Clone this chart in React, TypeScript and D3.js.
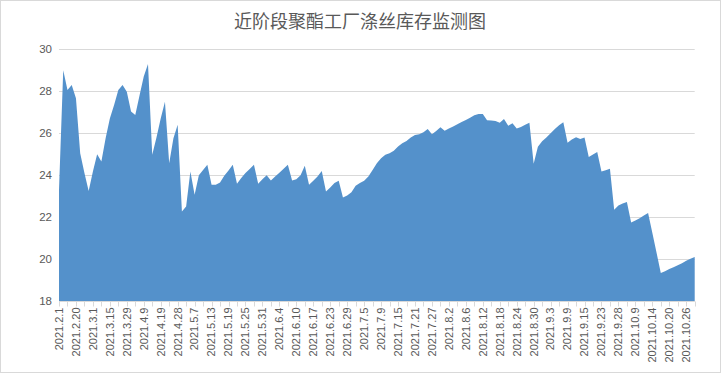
import React, { useEffect, useRef } from 'react';
import * as d3 from 'd3';

// inventory days, one value per observation (label shown every 4th point)
const inventory: number[] = [
  23.3, 29.0, 28.06, 28.3, 27.67, 25.05, 24.1, 23.25, 24.17, 25.0,
  24.65, 25.76, 26.7, 27.35, 28.06, 28.3, 27.98, 27.03, 26.87, 27.8,
  28.7, 29.3, 24.97, 25.8, 26.7, 27.5, 24.57, 25.76, 26.4, 22.27,
  22.5, 24.17, 23.07, 24.0, 24.25, 24.5, 23.54, 23.54, 23.65, 23.97,
  24.22, 24.49, 23.59, 23.86, 24.1, 24.29, 24.49, 23.59, 23.81, 24.0,
  23.74, 23.93, 24.12, 24.31, 24.49, 23.74, 23.81, 24.0, 24.45, 23.54,
  23.73, 23.93, 24.2, 23.22, 23.41, 23.62, 23.73, 22.93, 23.03, 23.19,
  23.5, 23.62, 23.73, 23.93, 24.25, 24.57, 24.81, 24.97, 25.05, 25.16,
  25.36, 25.52, 25.63, 25.79, 25.92, 25.95, 26.05, 26.2, 25.95, 26.1,
  26.28, 26.12, 26.22, 26.32, 26.43, 26.53, 26.63, 26.74, 26.86, 26.92,
  26.92, 26.62, 26.6, 26.58, 26.5, 26.68, 26.35, 26.48, 26.22, 26.3,
  26.4, 26.5, 24.54, 25.35, 25.62, 25.8, 26.0, 26.2, 26.38, 26.52,
  25.55, 25.7, 25.81, 25.72, 25.8, 24.86, 24.98, 25.1, 24.17, 24.23,
  24.3, 22.35, 22.55, 22.65, 22.72, 21.74, 21.84, 21.95, 22.08, 22.2,
  21.25, 20.3, 19.33, 19.42, 19.53, 19.61, 19.71, 19.8, 19.92, 20.01,
  20.1,
];

const dateLabels: string[] = [
  '2021.2.1', '2021.2.20', '2021.3.1', '2021.3.15', '2021.3.29', '2021.4.9',
  '2021.4.19', '2021.4.28', '2021.5.7', '2021.5.13', '2021.5.19', '2021.5.25',
  '2021.5.31', '2021.6.4', '2021.6.10', '2021.6.17', '2021.6.23', '2021.6.29',
  '2021.7.5', '2021.7.9', '2021.7.15', '2021.7.21', '2021.7.27', '2021.8.2',
  '2021.8.6', '2021.8.12', '2021.8.18', '2021.8.24', '2021.8.30', '2021.9.3',
  '2021.9.9', '2021.9.15', '2021.9.23', '2021.9.28', '2021.10.9', '2021.10.14',
  '2021.10.20', '2021.10.26',
];

const yTicks: number[] = [18, 20, 22, 24, 26, 28, 30];
const labelEvery = 4;
const tickEvery = 2;
const title = '近阶段聚酯工厂涤丝库存监测图';

const App = () => {
  const svgRef = useRef<SVGSVGElement | null>(null);
  const width = 721;
  const height = 373;

  useEffect(() => {
    const svg = d3.select(svgRef.current);
    svg.selectAll('*').remove();

    const margin = { top: 49.3, right: 26.3, bottom: 72, left: 59 };
    const gridColor = '#d9d9d9';
    const textColor = '#595959';

    // chart border
    svg.append('rect')
      .attr('x', 0.5).attr('y', 0.5)
      .attr('width', width - 1).attr('height', height - 1)
      .attr('fill', '#fff')
      .attr('stroke', gridColor);

    const x = d3.scaleLinear()
      .domain([0, inventory.length - 1])
      .range([margin.left, width - margin.right]);

    const y = d3.scaleLinear()
      .domain([18, 30])
      .range([height - margin.bottom, margin.top]);

    // gridlines + y labels
    yTicks.forEach(t => {
      svg.append('line')
        .attr('x1', x(0)).attr('x2', x(inventory.length - 1))
        .attr('y1', Math.round(y(t)) + 0.5).attr('y2', Math.round(y(t)) + 0.5)
        .attr('stroke', gridColor)
        .attr('stroke-width', 1);
      svg.append('text')
        .attr('x', 52)
        .attr('y', y(t))
        .attr('dy', '0.35em')
        .attr('text-anchor', 'end')
        .attr('fill', textColor)
        .style('font-family', '"Liberation Sans", Arial, sans-serif')
        .style('font-size', '11.5px')
        .text(t);
    });

    // area
    const area = d3.area<number>()
      .x((_, i) => x(i))
      .y0(y(18))
      .y1(d => y(d))
      .curve(d3.curveLinear);

    svg.append('path')
      .datum(inventory)
      .attr('fill', '#5491cb')
      .attr('d', area);

    // x axis line + ticks
    const axisY = Math.round(y(18)) + 0.5;
    svg.append('line')
      .attr('x1', x(0)).attr('x2', x(inventory.length - 1))
      .attr('y1', axisY).attr('y2', axisY)
      .attr('stroke', gridColor);

    d3.range(0, inventory.length, tickEvery).forEach(i => {
      const tx = Math.round(x(i)) + 0.5;
      svg.append('line')
        .attr('x1', tx).attr('x2', tx)
        .attr('y1', axisY).attr('y2', axisY + 5)
        .attr('stroke', gridColor);
    });

    dateLabels.forEach((label, k) => {
      const lx = x(k * labelEvery);
      svg.append('text')
        .attr('transform', `translate(${lx},${axisY + 6}) rotate(-90)`)
        .attr('dy', '0.35em')
        .attr('text-anchor', 'end')
        .attr('fill', textColor)
        .style('font-family', '"Liberation Sans", Arial, sans-serif')
        .style('font-size', '11px')
        .text(label);
    });

    // title
    svg.append('text')
      .attr('x', 360)
      .attr('y', 22)
      .attr('dy', '0.35em')
      .attr('text-anchor', 'middle')
      .attr('fill', textColor)
      .style('font-family', '"Noto Sans CJK SC", sans-serif')
      .style('font-size', '18px')
      .text(title);
  }, []);

  return (
    <svg
      ref={svgRef}
      width={width}
      height={height}
      style={{ position: 'absolute', left: 0, top: 0 }}
    />
  );
};

export default App;
